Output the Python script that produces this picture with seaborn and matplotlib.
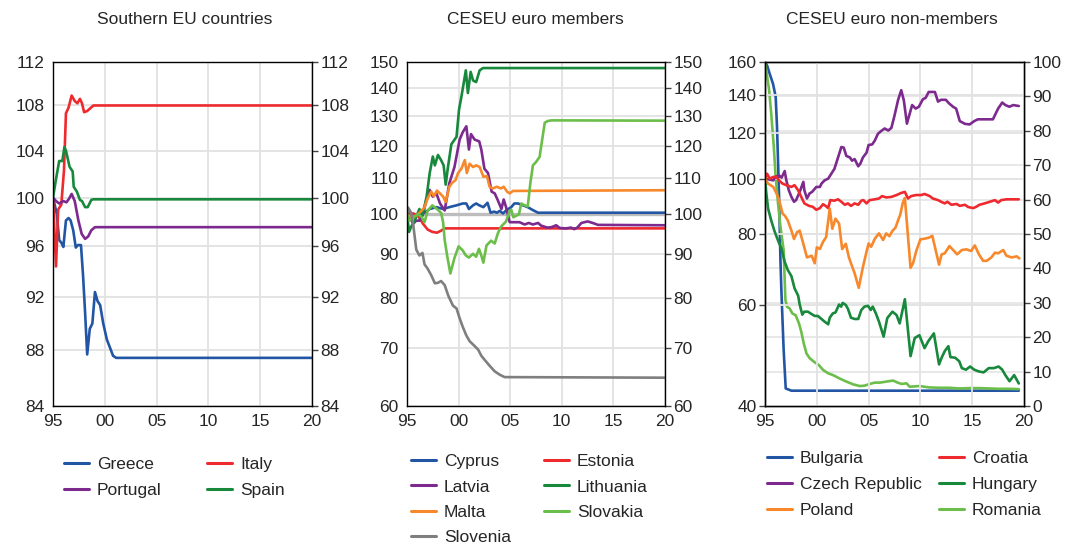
import numpy as np
import pandas as pd
import matplotlib
matplotlib.use("Agg")
import matplotlib.pyplot as plt
import seaborn as sns
from matplotlib.lines import Line2D
from matplotlib.ticker import FixedLocator, NullLocator, FuncFormatter

# ---------------- data ----------------
greece_x = [1995.0, 1995.35, 1995.6, 1995.8, 1996.0, 1996.25, 1996.5, 1996.7, 1996.95, 1997.2, 1997.4, 1997.7,
            1997.9, 1998.1, 1998.3, 1998.55, 1998.8, 1999.05, 1999.3, 1999.55, 1999.85, 2000.2, 2000.5, 2000.8,
            2001.1, 2020.0]
greece_y = [100.0, 98.7, 96.5, 96.3, 95.95, 98.1, 98.3, 98.1, 97.3, 95.9, 96.1, 96.1, 93.7, 90.8, 87.7, 89.6,
            90.0, 92.4, 91.7, 91.4, 90.0, 88.8, 88.2, 87.6, 87.45, 87.45]
italy_x = [1995.0, 1995.29, 1995.5, 1995.8, 1996.06, 1996.25, 1996.5, 1996.8, 1997.1, 1997.35, 1997.6, 1997.8,
           1998.0, 1998.3, 1998.9, 2020.0]
italy_y = [100.0, 94.4, 99.0, 99.4, 102.3, 107.3, 107.8, 108.9, 108.4, 108.2, 108.6, 108.2, 107.4, 107.5, 108.0,
           108.0]
portugal_x = [1995.0, 1995.3, 1995.6, 1996.0, 1996.3, 1996.55, 1996.8, 1997.1, 1997.45, 1997.77, 1998.1, 1998.4,
              1998.7, 1999.05, 2020.0]
portugal_y = [100.0, 99.7, 99.5, 99.7, 99.6, 99.9, 100.3, 99.7, 98.1, 97.0, 96.6, 96.8, 97.3, 97.55, 97.55]
spain_x = [1995.0, 1995.3, 1995.6, 1995.9, 1996.1, 1996.25, 1996.6, 1996.9, 1997.0, 1997.3, 1997.6, 1997.8,
           1998.1, 1998.35, 1998.7, 1998.9, 2020.0]
spain_y = [100.0, 101.6, 103.1, 103.1, 104.3, 104.0, 102.6, 102.2, 100.9, 100.5, 99.8, 99.7, 99.2, 99.2, 99.8,
           99.85, 99.85]

cyprus_x = [1995.0, 1995.26, 1995.75, 1996.2, 1996.7, 1997.2, 1997.85, 1998.5, 1999.1, 1999.8, 2000.4, 2000.75,
            2001.0, 2001.4, 2001.7, 2002.0, 2002.4, 2002.8, 2003.1, 2003.45, 2003.7, 2004.0, 2004.3, 2004.6,
            2005.1, 2005.4, 2005.75, 2006.24, 2006.7, 2007.2, 2007.7, 2020.0]
cyprus_y = [100.0, 99.2, 99.6, 100.0, 100.4, 101.4, 101.9, 101.4, 101.9, 102.4, 102.9, 102.9, 101.4, 102.4,
            102.9, 102.4, 101.9, 103.1, 100.4, 100.7, 100.4, 100.9, 100.2, 101.0, 101.9, 102.9, 102.9, 102.4,
            101.9, 101.1, 100.4, 100.4]
estonia_x = [1995.0, 1995.6, 1996.07, 1996.55, 1997.0, 1997.45, 1997.9, 1998.3, 1998.65, 2020.0]
estonia_y = [100.2, 100.2, 99.6, 97.5, 96.0, 95.4, 95.2, 95.7, 96.3, 96.3]
latvia_x = [1995.0, 1995.26, 1995.6, 1995.9, 1996.2, 1996.55, 1996.87, 1997.2, 1997.5, 1997.85, 1998.2, 1998.65,
            1999.1, 1999.6, 2000.1, 2000.4, 2000.75, 2001.0, 2001.2, 2001.55, 2002.0, 2002.2, 2002.5, 2002.85,
            2003.2, 2003.5, 2003.8, 2004.15, 2004.37, 2004.6, 2004.95, 2005.9, 2006.4, 2006.8, 2007.2, 2007.7,
            2008.0, 2008.6, 2009.0, 2009.45, 2009.8, 2010.4, 2010.9, 2011.2, 2011.5, 2011.9, 2012.5, 2013.0,
            2013.5, 2020.0]
latvia_y = [100.4, 99.2, 97.5, 98.3, 98.3, 100.0, 103.8, 106.7, 104.8, 105.7, 102.9, 101.0, 108.6, 113.4, 122.0,
            124.4, 126.4, 118.8, 123.8, 122.0, 121.4, 118.8, 112.9, 111.6, 106.2, 105.7, 103.8, 101.4, 104.0,
            101.9, 97.9, 97.9, 97.3, 97.7, 97.3, 97.7, 97.0, 96.5, 96.6, 97.1, 96.4, 96.3, 96.5, 96.1, 96.5,
            97.7, 98.1, 97.7, 97.2, 97.1]
lithuania_x = [1995.0, 1995.2, 1995.4, 1995.75, 1996.2, 1996.5, 1996.9, 1997.2, 1997.5, 1997.7, 1998.0, 1998.3,
               1998.55, 1998.75, 1998.97, 1999.3, 1999.8, 2000.04, 2000.27, 2000.7, 2000.9, 2001.17, 2001.4,
               2001.7, 2002.04, 2002.36, 2020.0]
lithuania_y = [100.0, 95.4, 96.7, 98.3, 101.4, 99.6, 104.8, 111.6, 116.6, 113.9, 117.1, 115.5, 113.9, 108.2,
               113.4, 120.5, 122.9, 132.1, 136.7, 146.7, 138.1, 146.1, 142.8, 142.2, 146.7, 147.6, 147.6]
malta_x = [1995.0, 1995.4, 1995.9, 1996.4, 1996.7, 1997.0, 1997.35, 1997.6, 1997.9, 1998.2, 1998.5, 1998.75,
           1999.1, 1999.4, 1999.7, 1999.95, 2000.27, 2000.6, 2000.8, 2001.07, 2001.4, 2001.7, 2002.04, 2002.4,
           2002.75, 2003.0, 2003.3, 2003.7, 2004.1, 2004.37, 2004.7, 2004.95, 2005.27, 2020.0]
malta_y = [100.0, 99.2, 99.6, 100.9, 101.9, 104.3, 106.2, 104.9, 106.5, 105.7, 104.8, 103.3, 107.6, 108.8, 109.5,
           111.6, 112.9, 115.5, 111.6, 114.4, 113.4, 113.9, 113.4, 110.5, 110.7, 107.6, 107.1, 107.6, 107.1,
           107.6, 106.2, 105.7, 106.4, 106.6]
slovakia_x = [1995.0, 1995.2, 1995.6, 1996.07, 1996.4, 1996.7, 1997.0, 1997.45, 1997.9, 1998.3, 1998.5, 1998.65,
              1998.9, 1999.2, 1999.6, 2000.0, 2000.4, 2000.7, 2001.0, 2001.4, 2001.7, 2001.97, 2002.2, 2002.4,
              2002.7, 2003.15, 2003.5, 2003.8, 2004.1, 2004.6, 2004.95, 2005.1, 2005.3, 2005.6, 2005.85, 2006.07,
              2006.4, 2006.7, 2006.95, 2007.2, 2007.5, 2007.85, 2008.1, 2008.35, 2008.65, 2009.0, 2020.0]
slovakia_y = [100.0, 98.3, 99.2, 100.0, 99.3, 97.9, 100.9, 102.4, 101.4, 100.4, 97.9, 93.4, 89.4, 85.4, 89.0,
              91.8, 90.8, 89.6, 89.1, 90.0, 89.3, 91.2, 89.6, 87.9, 92.0, 93.2, 92.5, 95.0, 96.7, 98.1, 100.9,
              101.2, 99.2, 99.6, 100.0, 102.9, 102.4, 102.1, 108.6, 113.9, 114.9, 116.5, 122.0, 127.6, 128.2,
              128.4, 128.3]
slovenia_x = [1995.0, 1995.1, 1995.4, 1995.6, 1995.9, 1996.2, 1996.5, 1996.7, 1997.0, 1997.35, 1997.7, 1998.0,
              1998.3, 1998.65, 1999.0, 1999.45, 1999.8, 2000.1, 2000.4, 2000.75, 2001.07, 2001.55, 2001.9, 2002.2,
              2002.5, 2003.0, 2003.5, 2004.0, 2004.46, 2020.0]
slovenia_y = [100.0, 101.8, 100.4, 97.3, 91.0, 89.6, 90.2, 87.5, 86.5, 85.0, 83.2, 83.3, 83.7, 82.8, 80.5, 78.4,
              77.8, 75.8, 74.1, 72.4, 71.3, 70.4, 69.7, 68.6, 67.9, 66.8, 65.8, 65.2, 64.8, 64.7]

bulgaria_x = [1995.0, 1995.2, 1995.45, 1995.77, 1996.03, 1996.16, 1996.35, 1996.49, 1996.58, 1996.8, 1997.0,
              1997.55, 2019.5]
bulgaria_y = [100.0, 99.0, 96.6, 93.7, 89.9, 81.1, 61.8, 42.4, 33.7, 16.3, 5.1, 4.45, 4.45]
czech_x = [1995.0, 1995.8, 1996.0, 1996.35, 1996.6, 1996.9, 1997.06, 1997.3, 1997.55, 1997.8, 1998.0, 1998.35,
           1998.7, 1998.8, 1999.05, 1999.3, 1999.55, 1999.95, 2000.3, 2000.45, 2000.75, 2001.1, 2001.4, 2001.7,
           2002.05, 2002.37, 2002.6, 2002.85, 2003.2, 2003.4, 2003.65, 2004.0, 2004.2, 2004.45, 2004.8, 2005.0,
           2005.35, 2005.6, 2005.9, 2006.2, 2006.55, 2006.9, 2007.2, 2007.5, 2007.85, 2008.15, 2008.4, 2008.7,
           2008.96, 2009.2, 2009.55, 2009.85, 2010.25, 2010.5, 2010.8, 2011.4, 2011.7, 2012.0, 2012.45, 2012.75,
           2013.15, 2013.45, 2013.8, 2014.3, 2014.75, 2015.2, 2015.55, 2016.35, 2017.0, 2017.5, 2017.9, 2018.2,
           2018.6, 2018.95, 2019.5]
czech_y = [100.0, 99.3, 100.7, 101.3, 100.4, 103.1, 99.3, 95.4, 92.9, 91.1, 91.7, 94.8, 98.7, 95.4, 92.3, 94.2,
           94.8, 96.7, 96.7, 98.0, 99.3, 100.0, 102.0, 104.0, 108.9, 113.6, 113.3, 109.6, 108.9, 107.5, 108.2,
           105.1, 106.2, 108.9, 111.0, 114.5, 114.8, 116.6, 119.8, 121.1, 122.4, 121.4, 122.7, 128.9, 137.4,
           142.8, 137.1, 124.8, 129.8, 134.5, 132.6, 133.6, 137.8, 138.4, 141.8, 141.8, 136.4, 137.4, 137.4,
           135.5, 133.6, 132.6, 126.1, 124.7, 124.4, 126.1, 127.0, 127.0, 127.0, 132.6, 135.9, 134.5, 133.6,
           134.5, 134.0]
poland_x = [1995.0, 1995.3, 1995.8, 1996.1, 1996.35, 1996.7, 1996.9, 1997.2, 1997.55, 1997.8, 1998.1, 1998.35,
            1998.7, 1999.05, 1999.5, 1999.8, 2000.0, 2000.3, 2000.6, 2000.9, 2001.25, 2001.5, 2001.8, 2002.15,
            2002.45, 2002.8, 2003.1, 2003.3, 2003.65, 2004.05, 2004.45, 2004.8, 2005.0, 2005.25, 2005.6, 2006.0,
            2006.4, 2006.7, 2007.0, 2007.3, 2007.6, 2007.85, 2008.05, 2008.3, 2008.5, 2009.05, 2009.3, 2009.6,
            2010.0, 2010.4, 2010.8, 2011.15, 2011.45, 2011.8, 2012.05, 2012.35, 2012.8, 2013.1, 2013.55, 2014.0,
            2014.45, 2014.9, 2015.25, 2015.65, 2016.05, 2016.4, 2016.85, 2017.2, 2017.5, 2018.0, 2018.3, 2018.8,
            2019.3, 2019.55]
poland_y = [100.0, 98.0, 96.7, 94.3, 91.9, 86.8, 86.2, 84.5, 81.1, 78.4, 80.6, 81.1, 76.9, 72.8, 73.3, 71.1,
            75.8, 75.3, 77.5, 79.0, 88.6, 81.7, 85.1, 83.4, 75.3, 76.9, 72.8, 71.1, 68.3, 64.4, 70.0, 74.5, 77.0,
            76.0, 78.5, 80.2, 78.1, 80.2, 79.3, 81.0, 82.1, 84.6, 86.4, 90.7, 92.5, 69.8, 71.2, 74.7, 78.3, 78.5,
            78.8, 79.4, 75.3, 70.7, 73.7, 74.0, 76.2, 75.2, 73.7, 75.0, 75.2, 74.7, 76.4, 73.7, 71.8, 71.8, 72.8,
            74.2, 74.0, 75.0, 73.3, 72.8, 73.1, 72.5]
croatia_x = [1995.0, 1995.2, 1995.45, 1995.8, 1996.1, 1996.35, 1996.7, 1997.06, 1997.55, 1997.85, 1998.2, 1998.5,
             1998.8, 1999.25, 1999.6, 1999.95, 2000.3, 2000.6, 2000.85, 2001.1, 2001.3, 2001.7, 2002.05, 2002.37,
             2002.7, 2003.0, 2003.3, 2003.65, 2004.0, 2004.3, 2004.5, 2004.8, 2005.1, 2005.6, 2006.0, 2006.3,
             2006.7, 2007.2, 2007.7, 2008.15, 2008.5, 2008.8, 2009.1, 2009.6, 2010.1, 2010.4, 2010.9, 2011.2,
             2011.7, 2012.0, 2012.35, 2012.6, 2013.0, 2013.5, 2013.8, 2014.3, 2014.6, 2015.1, 2015.4, 2015.7,
             2016.2, 2016.7, 2017.2, 2017.5, 2017.8, 2018.3, 2018.95, 2019.5]
croatia_y = [100.0, 102.0, 100.0, 100.7, 100.7, 99.3, 98.0, 97.4, 96.7, 97.4, 95.4, 92.9, 90.5, 89.6, 89.3, 88.2,
             88.8, 90.2, 89.6, 88.8, 91.7, 91.5, 92.0, 91.1, 90.0, 90.5, 89.6, 90.5, 90.0, 91.5, 91.7, 90.5, 91.7,
             92.0, 92.3, 93.2, 92.7, 92.9, 93.6, 94.4, 94.8, 92.3, 93.2, 93.6, 93.6, 94.0, 93.2, 92.3, 91.7, 91.1,
             90.5, 91.1, 90.0, 90.3, 89.6, 90.0, 89.2, 88.8, 89.3, 90.0, 90.5, 91.1, 91.7, 90.8, 91.7, 92.0, 92.0,
             92.0]
hungary_x = [1995.0, 1995.13, 1995.3, 1995.6, 1995.9, 1996.25, 1996.6, 1996.9, 1997.2, 1997.55, 1997.85, 1998.2,
             1998.35, 1998.6, 1998.8, 1999.15, 1999.45, 1999.8, 2000.1, 2000.45, 2000.75, 2001.1, 2001.25, 2001.55,
             2001.8, 2002.15, 2002.35, 2002.5, 2002.8, 2003.0, 2003.3, 2003.65, 2004.0, 2004.3, 2004.6, 2004.95,
             2005.2, 2005.4, 2005.7, 2006.0, 2006.45, 2006.8, 2007.3, 2007.7, 2008.0, 2008.5, 2009.05, 2009.45,
             2009.9, 2010.4, 2010.75, 2011.3, 2011.8, 2012.05, 2012.35, 2012.7, 2012.9, 2013.35, 2013.75, 2014.0,
             2014.4, 2014.8, 2015.2, 2015.6, 2016.1, 2016.6, 2017.1, 2017.55, 2017.9, 2018.2, 2018.6, 2019.05,
             2019.5]
hungary_y = [100.0, 94.2, 88.6, 84.5, 81.1, 78.0, 75.3, 71.5, 69.2, 67.5, 64.3, 62.4, 60.2, 57.8, 58.5, 58.5,
             58.0, 57.5, 57.5, 56.8, 56.2, 55.6, 57.1, 58.1, 58.3, 60.2, 59.7, 60.6, 60.1, 59.2, 57.1, 56.8, 56.8,
             58.9, 59.7, 59.9, 58.9, 59.7, 58.1, 56.2, 52.9, 57.0, 58.5, 57.7, 55.8, 61.5, 48.9, 52.6, 53.2, 50.5,
             51.9, 53.6, 47.3, 48.6, 49.9, 50.9, 48.7, 48.6, 47.9, 46.6, 46.3, 46.9, 46.3, 46.0, 45.8, 46.6, 46.6,
             46.9, 46.3, 45.3, 44.2, 45.3, 43.8]
romania_x = [1995.0, 1995.4, 1995.6, 1995.85, 1996.03, 1996.26, 1996.49, 1996.8, 1996.97, 1997.13, 1997.37,
             1997.64, 1997.96, 1998.28, 1998.5, 1998.74, 1999.0, 1999.31, 1999.8, 2000.2, 2000.6, 2001.1, 2001.55,
             2002.2, 2002.85, 2003.5, 2004.14, 2004.6, 2005.1, 2005.6, 2006.1, 2006.72, 2007.36, 2007.8, 2008.2,
             2008.65, 2008.97, 2009.9, 2010.85, 2011.8, 2012.8, 2013.75, 2014.7, 2015.7, 2016.6, 2017.6, 2018.55,
             2019.5]
romania_y = [100.0, 91.8, 85.0, 75.3, 66.6, 58.9, 52.1, 45.3, 30.8, 28.8, 28.4, 26.9, 26.4, 24.0, 21.6, 18.2,
             15.3, 13.9, 12.7, 11.9, 10.5, 9.5, 9.0, 8.0, 7.1, 6.3, 5.8, 5.9, 6.4, 6.8, 6.8, 7.1, 7.4, 6.8, 6.4,
             6.6, 5.6, 5.8, 5.4, 5.3, 5.3, 5.1, 5.2, 5.2, 5.1, 5.0, 5.0, 4.9]

titles = ["Southern EU countries", "CESEU euro members", "CESEU euro non-members"]
xticks = [1995, 2000, 2005, 2010, 2015, 2020]
p1_yticks = [84, 88, 92, 96, 100, 104, 108, 112]
p2_yticks = [60, 70, 80, 90, 100, 110, 120, 130, 140, 150]
p3_left_ticks = [40, 60, 80, 100, 120, 140, 160]
p3_right_ticks = [0, 10, 20, 30, 40, 50, 60, 70, 80, 90, 100]

BLUE, RED, PURPLE, DGREEN = "#2256a5", "#ee2a2f", "#7c2a8e", "#17883c"
ORANGE, LGREEN, GRAY = "#f7882b", "#6cbe4a", "#7f7f7f"

panel1 = {"Greece": (greece_x, greece_y, BLUE), "Italy": (italy_x, italy_y, RED),
          "Portugal": (portugal_x, portugal_y, PURPLE), "Spain": (spain_x, spain_y, DGREEN)}
panel2 = {"Cyprus": (cyprus_x, cyprus_y, BLUE), "Estonia": (estonia_x, estonia_y, RED),
          "Latvia": (latvia_x, latvia_y, PURPLE), "Lithuania": (lithuania_x, lithuania_y, DGREEN),
          "Malta": (malta_x, malta_y, ORANGE), "Slovakia": (slovakia_x, slovakia_y, LGREEN),
          "Slovenia": (slovenia_x, slovenia_y, GRAY)}
panel3_left = {"Czech Republic": (czech_x, czech_y, PURPLE), "Croatia": (croatia_x, croatia_y, RED),
               "Hungary": (hungary_x, hungary_y, DGREEN), "Poland": (poland_x, poland_y, ORANGE)}
panel3_right = {"Bulgaria": (bulgaria_x, bulgaria_y, BLUE), "Romania": (romania_x, romania_y, LGREEN)}

leg1 = [["Greece", "Portugal"], ["Italy", "Spain"]]
leg2 = [["Cyprus", "Latvia", "Malta", "Slovenia"], ["Estonia", "Lithuania", "Slovakia"]]
leg3 = [["Bulgaria", "Czech Republic", "Poland"], ["Croatia", "Hungary", "Romania"]]

# ---------------- style ----------------
sns.set_theme(style="white")
plt.rcParams["font.family"] = ["Liberation Sans", "DejaVu Sans"]
FS = 12.5
W, H = 1078, 549
LW = 1.9
GRID = "#e2e2e2"

fig = plt.figure(figsize=(W / 100, H / 100), dpi=100)
fig.patch.set_facecolor("white")


def frame(left_px, right_px):
    return fig.add_axes([left_px / W, 1 - 406 / H, (right_px - left_px) / W, 344 / H])


def long_df(d):
    rows = []
    for name, (xs, ys, _) in d.items():
        for x, y in zip(xs, ys):
            rows.append((name, x, y))
    return pd.DataFrame(rows, columns=["country", "year", "value"])


def draw(ax, d):
    df = long_df(d)
    sns.lineplot(data=df, x="year", y="value", hue="country", hue_order=list(d.keys()),
                 palette={k: v[2] for k, v in d.items()}, estimator=None, linewidth=LW,
                 ax=ax, legend=False)


def style(ax, grid=True):
    ax.set_xlim(1995, 2020)
    ax.xaxis.set_major_locator(FixedLocator(xticks))
    ax.xaxis.set_major_formatter(FuncFormatter(lambda v, p: f"{int(round(v)) % 100:02d}"))
    ax.set_xlabel("")
    ax.set_ylabel("")
    for s in ax.spines.values():
        s.set_visible(True)
        s.set_color("black")
        s.set_linewidth(1.0)
    ax.tick_params(axis="both", which="major", direction="out", length=4, width=1,
                   color="#444444", labelsize=FS, pad=2)
    ax.tick_params(axis="x", pad=1.5)
    if grid:
        ax.grid(True, color=GRID, linewidth=1.3)
    ax.set_axisbelow(True)


def set_logy(ax, lo, hi, ticks):
    ax.set_yscale("log")
    ax.set_ylim(lo, hi)
    ax.yaxis.set_major_locator(FixedLocator(ticks))
    ax.yaxis.set_minor_locator(NullLocator())
    ax.yaxis.set_major_formatter(FuncFormatter(lambda v, p: f"{v:.0f}"))


# Panel 1
ax1 = frame(53, 312)
draw(ax1, panel1)
style(ax1)
set_logy(ax1, 84, 112, p1_yticks)
ax1.tick_params(axis="y", right=True, labelright=True)

# Panel 2
ax2 = frame(407, 665)
ax2.axhline(100, color="#bdbdbd", linewidth=2.4, zorder=1.5)
draw(ax2, panel2)
style(ax2)
set_logy(ax2, 60, 150, p2_yticks)
ax2.tick_params(axis="y", right=True, labelright=True)

# Panel 3
ax3 = frame(765, 1024)
ax3r = ax3.twinx()
draw(ax3, panel3_left)
draw(ax3r, panel3_right)
style(ax3)
style(ax3r, grid=False)
set_logy(ax3, 40, 160, p3_left_ticks)
ax3r.set_ylim(0, 100)
ax3r.yaxis.set_major_locator(FixedLocator(p3_right_ticks))
ax3r.yaxis.set_major_formatter(FuncFormatter(lambda v, p: f"{v:.0f}"))
ax3r.set_ylabel("")
ax3r.yaxis.grid(True, color=GRID, linewidth=1.1)
ax3r.xaxis.grid(False)
ax3.tick_params(axis="y", right=False, labelright=False)
ax3r.patch.set_visible(True)
ax3r.patch.set_facecolor("white")
ax3.set_zorder(ax3r.get_zorder() + 1)
ax3.patch.set_visible(False)

# Titles
for cx, t in zip([185, 535, 892], titles):
    fig.text(cx / W, 1 - 20 / H, t, ha="center", va="center", fontsize=FS)

# Legends (one per column)
colors = {}
for d in (panel1, panel2, panel3_left, panel3_right):
    for k, v in d.items():
        colors[k] = v[2]


def column_legend(names, x_px, y_px, spacing):
    handles = [Line2D([], [], color=colors[n], linewidth=2.2) for n in names]
    lg = fig.legend(handles, names, loc="upper left", bbox_to_anchor=(x_px / W, 1 - y_px / H),
                    frameon=False, fontsize=FS, handlelength=1.45, handletextpad=0.45,
                    labelspacing=spacing, borderpad=0, borderaxespad=0)
    return lg


column_legend(leg1[0], 64, 457, 0.61)
column_legend(leg1[1], 207, 457, 0.61)
column_legend(leg2[0], 411, 454, 0.59)
column_legend(leg2[1], 544, 454, 0.59)
column_legend(leg3[0], 767, 451, 0.63)
column_legend(leg3[1], 939, 451, 0.63)

fig.savefig("out.png", dpi=100, facecolor="white")
